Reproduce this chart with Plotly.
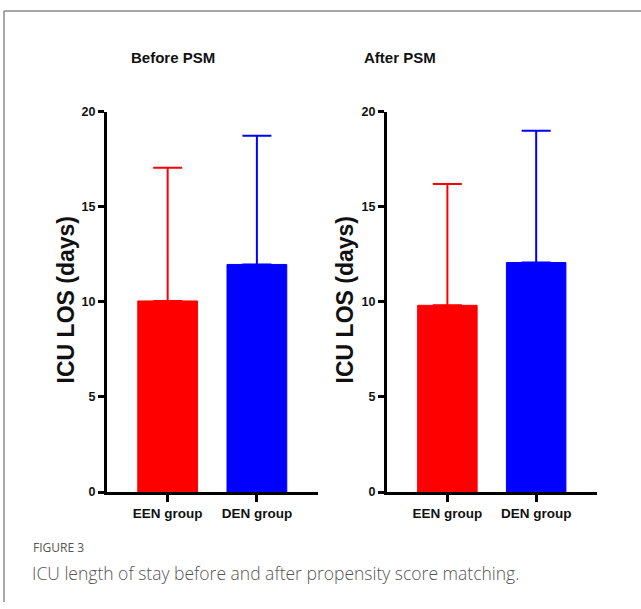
import plotly.graph_objects as go

groups = ["EEN group", "DEN group"]
before_means = [10.05, 11.97]
before_sd = [7.01, 6.77]
after_means = [9.82, 12.07]
after_sd = [6.38, 6.93]
bar_colors = ["#ff0000", "#0000ff"]
panel_titles = ["Before PSM", "After PSM"]
y_ticks = [0, 5, 10, 15, 20]

W, H = 641, 609
# the capture maps figure y to screen y as 6 + 0.979*y; compensate
def px(x): return x / W
def py(y): return 1 - ((y - 6) / 0.979) / H

SANS = "Liberation Sans, Arial"

fig = go.Figure()

panels = [
    dict(means=before_means, sd=before_sd, xa="x", ya="y", xdom=[px(107), px(318)], cx=173, tx=66),
    dict(means=after_means, sd=after_sd, xa="x2", ya="y2", xdom=[px(387), px(597)], cx=400, tx=345),
]

for i, p in enumerate(panels):
    for j, g in enumerate(groups):
        fig.add_trace(go.Bar(
            x=[j], y=[p["means"][j]],
            width=0.67,
            marker=dict(color=bar_colors[j], line=dict(color=bar_colors[j], width=1)),
            error_y=dict(type="data", symmetric=False, array=[p["sd"][j]], arrayminus=[0],
                         color=bar_colors[j], thickness=2, width=14.5),
            xaxis=p["xa"], yaxis=p["ya"], showlegend=False,
        ))

axis_common_x = dict(
    tickmode="array", tickvals=[0, 1], ticktext=groups,
    range=[-0.68, 1.685], showline=True, linecolor="black", linewidth=3,
    ticks="outside", ticklen=7, tickwidth=3, tickcolor="black",
    tickfont=dict(family=SANS, size=13.5, color="#111", weight="bold"),
    showgrid=False, zeroline=False, fixedrange=True,
)
axis_common_y = dict(
    range=[0, 20], tickmode="array", tickvals=y_ticks,
    showline=True, linecolor="black", linewidth=3,
    ticks="outside", ticklen=6, tickwidth=3, tickcolor="black",
    tickfont=dict(family=SANS, size=12.5, color="#111", weight="bold"),
    showgrid=False, zeroline=False, domain=[py(492), py(111)], fixedrange=True,
)

fig.update_layout(
    width=W, height=H,
    margin=dict(l=0, r=0, t=0, b=0),
    paper_bgcolor="white", plot_bgcolor="white",
    xaxis=dict(domain=panels[0]["xdom"], anchor="y", **axis_common_x),
    yaxis=dict(anchor="x", **axis_common_y),
    xaxis2=dict(domain=panels[1]["xdom"], anchor="y2", **axis_common_x),
    yaxis2=dict(anchor="x2", **axis_common_y),
)

annotations = []
for i, p in enumerate(panels):
    annotations.append(dict(
        text="<b>" + panel_titles[i] + "</b>", x=px(p["cx"]), y=py(57),
        xref="paper", yref="paper", showarrow=False, xanchor="center", yanchor="middle",
        font=dict(family=SANS, size=15, color="#111"),
    ))
    annotations.append(dict(
        text="<b>ICU LOS (days)</b>", x=px(p["tx"]), y=py(300),
        xref="paper", yref="paper", showarrow=False, xanchor="center", yanchor="middle",
        textangle=-90, font=dict(family=SANS, size=23, color="#111"),
    ))
annotations.append(dict(
    text="FIGURE 3", x=px(31), y=py(548), xref="paper", yref="paper", showarrow=False,
    xanchor="left", yanchor="middle",
    font=dict(family="Open Sans", size=12, color="#555555", weight=500),
))
annotations.append(dict(
    text="ICU length of stay before and after propensity score matching.",
    x=px(30), y=py(573), xref="paper", yref="paper", showarrow=False,
    xanchor="left", yanchor="middle",
    font=dict(family="Open Sans", size=17.5, color="#555555", weight=300),
))
fig.update_layout(annotations=annotations)

fig.add_shape(type="line", xref="paper", yref="paper", x0=px(4), x1=px(4), y0=0, y1=py(10),
              line=dict(color="#8a8a8a", width=1.5))
fig.add_shape(type="line", xref="paper", yref="paper", x0=px(4), x1=1, y0=py(10), y1=py(10),
              line=dict(color="#8a8a8a", width=1.5))

fig.write_html(
    "out.html",
    config={"displayModeBar": False},
    post_script=(
        "var d=document.getElementById('{plot_id}');"
        "d.style.position='fixed';d.style.top='0px';d.style.left='0px';"
        "document.body.style.margin='0';document.body.style.padding='0';"
        "document.body.style.overflow='hidden';"
        "document.documentElement.style.overflow='hidden';"
    ),
)
